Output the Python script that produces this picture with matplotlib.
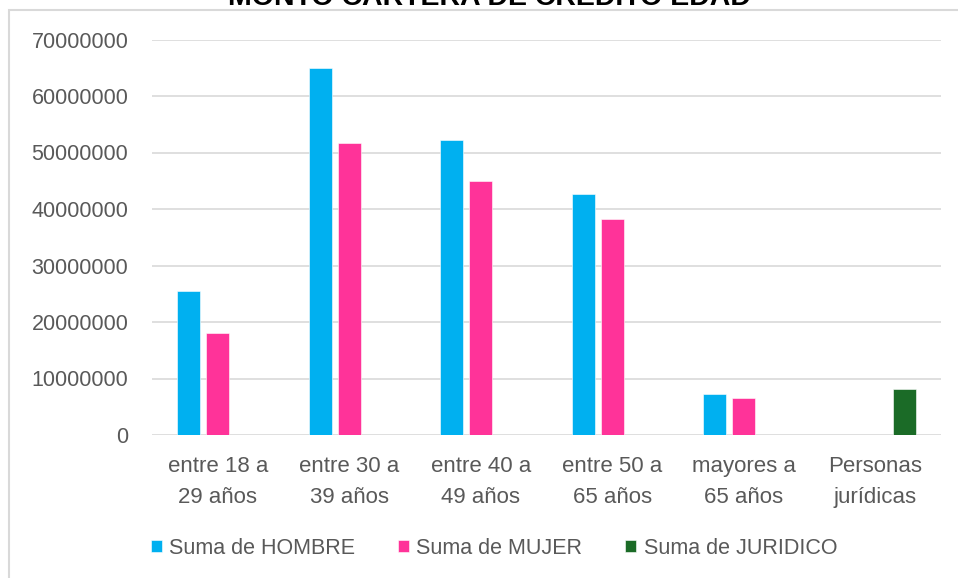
#!/usr/bin/env python3
"""Monto cartera de credito por edad - barras agrupadas."""
import numpy as np
import matplotlib

matplotlib.use("Agg")
import matplotlib.pyplot as plt
from matplotlib.patches import Rectangle

categorias = [
    "entre 18 a\n29 años",
    "entre 30 a\n39 años",
    "entre 40 a\n49 años",
    "entre 50 a\n65 años",
    "mayores a\n65 años",
    "Personas\njurídicas",
]
hombre = [25500000, 65000000, 52300000, 42700000, 7300000, np.nan]
mujer = [18100000, 51600000, 44900000, 38300000, 6600000, np.nan]
juridico = [np.nan, np.nan, np.nan, np.nan, np.nan, 8200000]
series = ["Suma de HOMBRE", "Suma de MUJER", "Suma de JURIDICO"]
yticks = [0, 10000000, 20000000, 30000000, 40000000, 50000000, 60000000, 70000000]

colores = ["#00B0F0", "#FF3399", "#1B6B27"]
gris = "#595959"

plt.rcParams["font.family"] = ["Liberation Sans", "DejaVu Sans"]

fig = plt.figure(figsize=(9.58, 5.78), dpi=100)
ax = fig.add_axes([152 / 958, 1 - 435 / 578, 789 / 958, (435 - 39.5) / 578])

x = np.arange(len(categorias))
ancho = 0.175
desplaz = [-0.222, 0.0, 0.219]
for datos, d, color, nombre in zip([hombre, mujer, juridico], desplaz, colores, series):
    ax.bar(x + d, datos, width=ancho, color=color, edgecolor="white",
           linewidth=0.4, label=nombre, zorder=3)

ax.set_xlim(-0.5, len(categorias) - 0.5)
ax.set_ylim(0, 70000000)
ax.set_yticks(yticks)
ax.set_yticklabels([str(v) for v in yticks])
ax.set_xticks(x)
ax.set_xticklabels(categorias, linespacing=1.62)
ax.tick_params(axis="y", length=0, pad=17, labelsize=15.5, labelcolor=gris)
ax.tick_params(axis="x", length=0, pad=15, labelsize=16, labelcolor=gris)
ax.grid(axis="y", color="#d9d9d9", linewidth=1.2, zorder=0)
for s in ax.spines.values():
    s.set_visible(False)

fig.legend(loc="center", bbox_to_anchor=(494 / 958, 1 - 548 / 578), ncol=3,
           frameon=False, fontsize=15.5, labelcolor=gris,
           handlelength=0.5, handleheight=0.5, handletextpad=0.35,
           columnspacing=2.0)

# titulo recortado arriba
fig.text(489 / 958, 1 - 5 / 578, "MONTO CARTERA DE CRÉDITO EDAD",
         ha="center", va="baseline", fontsize=20.5, fontweight="bold",
         color="black")

# borde del area del grafico
fig.patches.append(Rectangle((9 / 958, -0.1), 1.2, 1 - 10 / 578 + 0.1,
                             transform=fig.transFigure, fill=False,
                             edgecolor="#d9d9d9", linewidth=1.5))

fig.savefig("out.png", dpi=100)
